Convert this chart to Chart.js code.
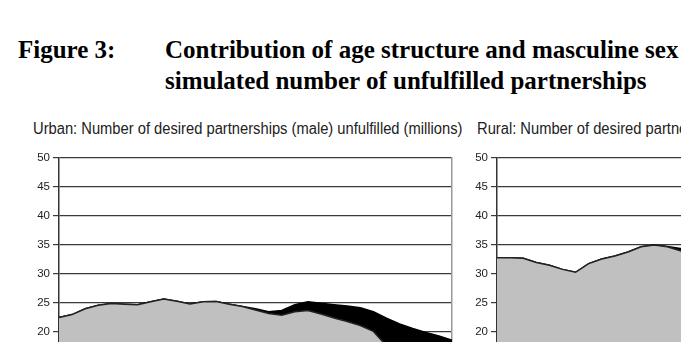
<!DOCTYPE html>
<html>
<head>
<meta charset="utf-8">
<script src="https://cdn.jsdelivr.net/npm/chart.js@4.4.1/dist/chart.umd.min.js"></script>
<style>
  html, body { margin: 0; padding: 0; background: #fff; width: 681px; height: 342px; overflow: hidden; }
  .t { position: absolute; white-space: nowrap; line-height: 1; color: #000; }
  .fig { font: bold 25px 'Liberation Serif', 'Times New Roman', serif; }
  .sub { font: 16px 'Liberation Sans', Arial, sans-serif; color: #222; transform: scaleX(0.92); transform-origin: left top; }
  canvas { position: absolute; }
</style>
</head>
<body>
<div class="t fig" style="left:18px; top:36px;">Figure 3:</div>
<div class="t fig" style="left:165px; top:36px;">Contribution of age structure and masculine sex ratio to the</div>
<div class="t fig" style="left:165px; top:67px;">simulated number of unfulfilled partnerships</div>
<div class="t sub" style="left:33px; top:120px;">Urban: Number of desired partnerships (male) unfulfilled (millions)</div>
<div class="t sub" style="left:477px; top:120px;">Rural: Number of desired partnerships (male) unfulfilled (millions)</div>

<canvas id="chart-urban" width="460" height="330" style="left:0px; top:138px;"></canvas>
<canvas id="chart-rural" width="460" height="330" style="left:438px; top:138px;"></canvas>

<script>
const years = [];
for (let y = 2000; y <= 2030; y++) years.push(String(y));

const yTicks = [0, 5, 10, 15, 20, 25, 30, 35, 40, 45, 50];

// grey area: age structure only; black band on top: with masculine sex ratio
const urbanAge = [22.5, 23.0, 24.0, 24.6, 24.9, 24.8, 24.7, 25.2, 25.7, 25.3, 24.85, 25.2, 25.25, 24.8, 24.4, 23.8,
  23.2, 22.9, 23.5, 23.7, 23.1, 22.4, 21.8, 21.1, 20.1, 17.6, 16.8, 16.0, 15.3, 14.6, 14.0];
const urbanTotal = [22.5, 23.0, 24.0, 24.6, 24.9, 24.8, 24.7, 25.2, 25.7, 25.3, 24.85, 25.2, 25.25, 24.8, 24.4, 24.0,
  23.5, 23.7, 24.7, 25.2, 24.95, 24.7, 24.5, 24.2, 23.5, 22.4, 21.4, 20.6, 19.9, 19.3, 18.6];

const ruralAge = [32.8, 32.8, 32.7, 32.0, 31.5, 30.8, 30.3, 31.8, 32.6, 33.1, 33.8, 34.7, 35.0, 34.7, 34.0, 33.2,
  32.5, 31.6, 30.9, 30.1, 29.4, 28.6, 27.8, 27.0, 26.1, 25.3, 24.6, 23.8, 23.1, 22.4, 21.8];
const ruralTotal = [32.8, 32.8, 32.7, 32.0, 31.5, 30.8, 30.3, 31.8, 32.6, 33.1, 33.8, 34.7, 35.0, 34.75, 34.4, 34.0,
  33.6, 33.0, 32.6, 32.1, 31.5, 30.9, 30.3, 29.7, 29.0, 28.4, 27.8, 27.2, 26.7, 26.1, 25.6];

function makeChart(id, age, total) {
  const ctx = document.getElementById(id);
  new Chart(ctx, {
    type: 'line',
    data: {
      labels: years,
      datasets: [{
        label: 'Age structure',
        data: age,
        borderColor: '#222',
        borderWidth: 1.5,
        backgroundColor: '#c0c0c0',
        fill: 'origin',
        pointRadius: 0,
        tension: 0,
      }, {
        label: 'Sex ratio',
        data: total,
        borderColor: '#000',
        borderWidth: 1.5,
        backgroundColor: '#000',
        fill: '-1',
        pointRadius: 0,
        tension: 0,
      }]
    },
    options: {
      responsive: false,
      animation: false,
      layout: { padding: { top: 20, bottom: 20, left: 0, right: 8 } },
      plugins: { legend: { display: false }, tooltip: { enabled: false } },
      scales: {
        x: { display: false, offset: false },
        y: {
          min: 0, max: 50,
          afterBuildTicks: (s) => { s.ticks = yTicks.map(v => ({ value: v })); },
          afterFit: (s) => { s.width = 59; },
          grid: { color: '#3a3a3a', lineWidth: 1.2, tickLength: 6, drawTicks: true },
          border: { color: '#333', width: 1.5 },
          ticks: { color: '#222', padding: 3, font: { family: "'Liberation Sans', Arial, sans-serif", size: 11.5 } }
        },
        y2: {
          position: 'right',
          min: 0, max: 50,
          afterFit: (s) => { s.width = 0; },
          grid: { display: false },
          ticks: { display: false },
          border: { display: true, color: '#999', width: 1.5 }
        }
      }
    }
  });
}

makeChart('chart-urban', urbanAge, urbanTotal);
makeChart('chart-rural', ruralAge, ruralTotal);
</script>
</body>
</html>
